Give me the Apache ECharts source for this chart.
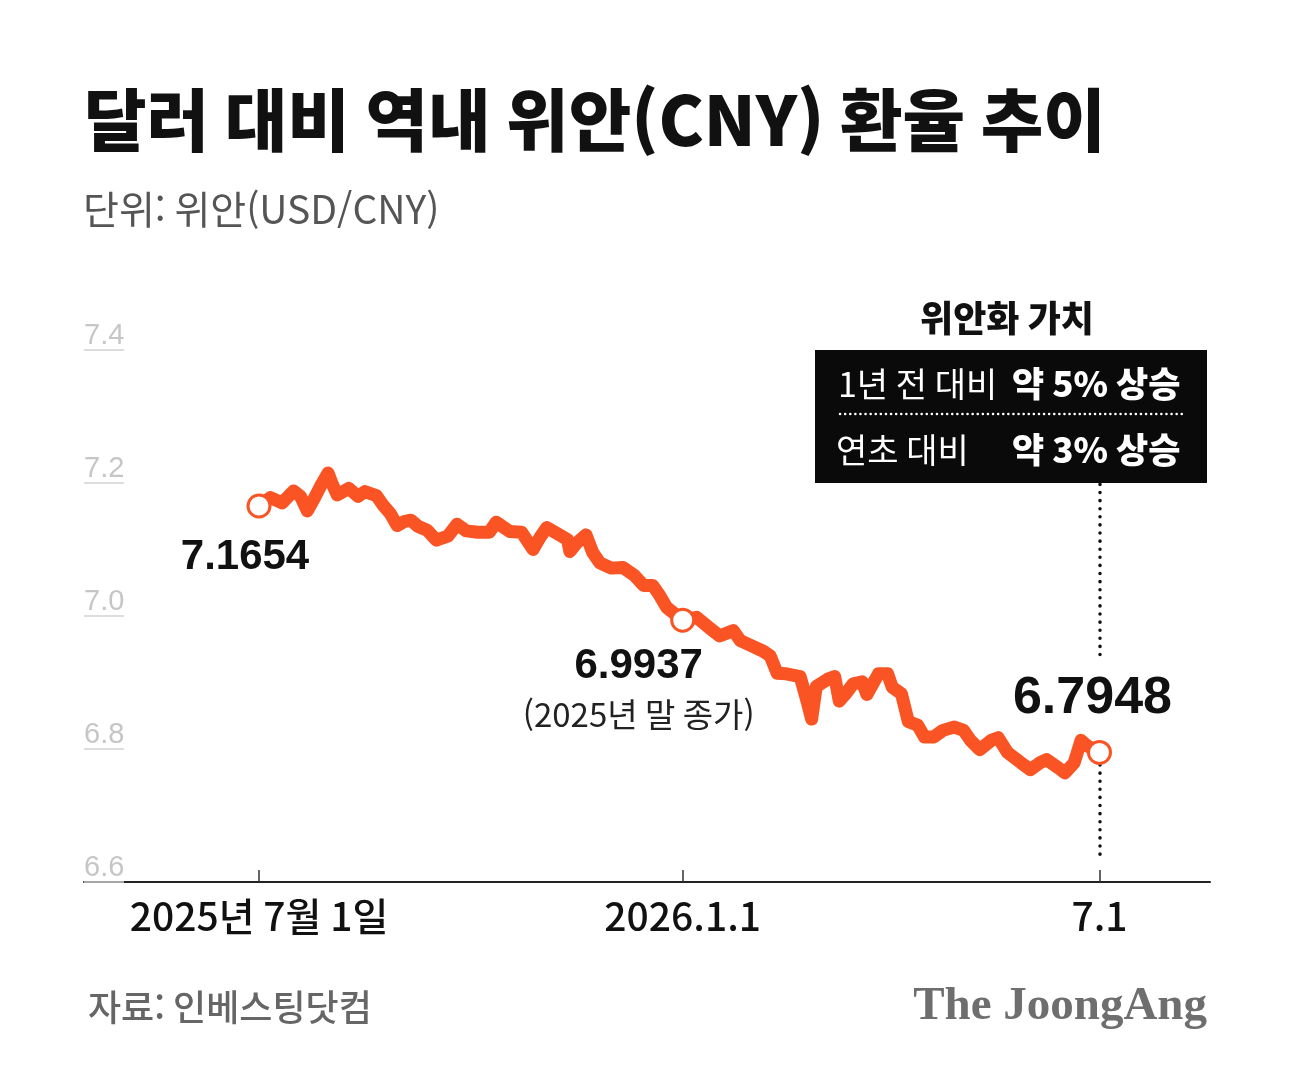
<!DOCTYPE html>
<html lang="ko">
<head>
<meta charset="UTF-8">
<title>달러 대비 역내 위안(CNY) 환율 추이</title>
<script src="https://cdn.jsdelivr.net/npm/echarts@6/dist/echarts.min.js"></script>
<style>
html, body { margin: 0; padding: 0; background: #fff; }
#main { width: 1291px; height: 1091px; }
</style>
</head>
<body>
<div id="main"></div>
<script>
// 데이터
var dates = [
  '2025-07-01','2025-07-06','2025-07-11','2025-07-16','2025-07-19','2025-07-22','2025-07-25','2025-07-28','2025-07-31',
  '2025-08-02','2025-08-04','2025-08-09','2025-08-13','2025-08-16','2025-08-21','2025-08-24','2025-08-27','2025-08-30',
  '2025-09-02','2025-09-05','2025-09-08','2025-09-12','2025-09-16','2025-09-21','2025-09-25','2025-09-29',
  '2025-10-04','2025-10-09','2025-10-12','2025-10-18','2025-10-23','2025-10-28','2025-10-31',
  '2025-11-03','2025-11-07','2025-11-12','2025-11-13','2025-11-16','2025-11-20','2025-11-23','2025-11-26',
  '2025-12-01','2025-12-06','2025-12-11','2025-12-15','2025-12-19','2025-12-22','2025-12-25',
  '2026-01-01','2026-01-07','2026-01-13','2026-01-17','2026-01-23','2026-01-26','2026-01-31',
  '2026-02-05','2026-02-08','2026-02-11','2026-02-15','2026-02-21','2026-02-24','2026-02-26','2026-02-28',
  '2026-03-05','2026-03-08','2026-03-10','2026-03-13','2026-03-16','2026-03-20','2026-03-22','2026-03-27','2026-03-31',
  '2026-04-02','2026-04-06','2026-04-09','2026-04-13','2026-04-16','2026-04-20','2026-04-24','2026-04-29',
  '2026-05-03','2026-05-06','2026-05-10','2026-05-15','2026-05-18','2026-05-22','2026-05-28',
  '2026-06-01','2026-06-05','2026-06-08','2026-06-13','2026-06-16','2026-06-20','2026-06-23','2026-06-26','2026-07-01'
];
var cny = [
  7.1654, 7.178, 7.170, 7.188, 7.180, 7.158, 7.177, 7.197, 7.215,
  7.197, 7.182, 7.192, 7.180, 7.187, 7.181, 7.166, 7.154, 7.136,
  7.142, 7.144, 7.135, 7.129, 7.114, 7.120, 7.138, 7.128,
  7.126, 7.126, 7.141, 7.127, 7.126, 7.100, 7.118,
  7.133, 7.125, 7.115, 7.097, 7.110, 7.122, 7.095, 7.080,
  7.072, 7.073, 7.061, 7.046, 7.046, 7.031, 7.013,
  6.9937, 6.998, 6.981, 6.970, 6.978, 6.963, 6.955,
  6.947, 6.940, 6.914, 6.913, 6.909, 6.872, 6.845, 6.894,
  6.905, 6.909, 6.872, 6.884, 6.898, 6.901, 6.882, 6.913, 6.913,
  6.893, 6.883, 6.841, 6.836, 6.818, 6.818, 6.828, 6.833,
  6.828, 6.813, 6.799, 6.813, 6.817, 6.795, 6.779,
  6.769, 6.779, 6.784, 6.772, 6.764, 6.779, 6.813, 6.804, 6.7948
];

// 축 눈금
var yTicks = [6.6, 6.8, 7.0, 7.2, 7.4];
var xTickDates = ['2025-07-01', '2026-01-01', '2026-07-01'];
var xTickLabels = ['2025년 7월 1일', '2026.1.1', '7.1'];

// 강조 지점
var hlDates = ['2025-07-01', '2026-01-01', '2026-07-01'];
var hlValues = [7.1654, 6.9937, 6.7948];

function ts(s) {
  var p = s.split('-');
  return new Date(+p[0], +p[1] - 1, +p[2]).getTime();
}

var ORANGE = '#fa5424';
var xTickTs = xTickDates.map(ts);
var seriesData = dates.map(function (d, i) { return [ts(d), cny[i]]; });

var hlLabels = [
  { position: 'inside', offset: [-14, 51], formatter: '{n|7.1654}' },
  { position: 'inside', offset: [-44, 70], formatter: '{n|6.9937}\n{s|(2025년 말 종가)}' },
  { position: 'inside', offset: [-7, -54], formatter: '{b|6.7948}' }
];
var markData = hlDates.map(function (d, i) {
  return {
    coord: [ts(d), hlValues[i]],
    label: hlLabels[i]
  };
});

var myChart = echarts.init(document.getElementById('main'));

var option = {
  backgroundColor: '#fff',
  animation: false,
  grid: { left: 84, right: 81, top: 350, bottom: 209 },
  xAxis: {
    type: 'value',
    min: ts('2025-04-16'),
    max: ts('2026-08-18'),
    axisLine: { lineStyle: { color: '#222', width: 2 } },
    axisTick: {
      show: true, inside: true, length: 12,
      customValues: xTickTs,
      lineStyle: { color: '#333', width: 1.5 }
    },
    axisLabel: {
      customValues: xTickTs,
      margin: 15,
      color: '#111',
      fontSize: 39,
      fontFamily: 'Noto Sans CJK KR',
      fontWeight: 500,
      formatter: function (v) {
        var i = xTickTs.indexOf(v);
        return i >= 0 ? xTickLabels[i] : '';
      }
    },
    splitLine: { show: false }
  },
  yAxis: {
    type: 'value',
    min: 6.6,
    max: 7.4,
    interval: 0.2,
    axisLine: { show: false },
    axisTick: {
      show: true, inside: true, length: 40,
      lineStyle: { color: '#d2d2d2', width: 1.5 }
    },
    axisLabel: {
      inside: true,
      margin: 0,
      verticalAlign: 'bottom',
      padding: [0, 0, 0, 0],
      color: '#c6c6c6',
      fontSize: 29,
      fontFamily: 'Liberation Sans',
      formatter: function (v) { return v.toFixed(1); }
    },
    splitLine: { show: false }
  },
  series: [{
    type: 'line',
    data: seriesData,
    symbol: 'none',
    smooth: false,
    lineStyle: { color: ORANGE, width: 13, cap: 'round', join: 'round' },
    markPoint: {
      symbol: 'circle',
      symbolSize: 22,
      itemStyle: { color: '#fff', borderColor: ORANGE, borderWidth: 3 },
      label: {
        show: true,
        rich: {
          n: { fontFamily: 'Liberation Sans', fontWeight: 'bold', fontSize: 42, color: '#111', lineHeight: 48 },
          b: { fontFamily: 'Liberation Sans', fontWeight: 'bold', fontSize: 52, color: '#111', lineHeight: 58 },
          s: { fontFamily: 'Noto Sans CJK KR', fontSize: 33, color: '#222', lineHeight: 48 }
        }
      },
      data: markData
    },
    markLine: {
      silent: true,
      symbol: 'none',
      label: { show: false },
      lineStyle: { color: '#111', width: 3.5, type: [0.1, 8], cap: 'round' },
      data: [
        [{ coord: [ts('2026-07-01'), 7.198] }, { coord: [ts('2026-07-01'), 6.935] }],
        [{ coord: [ts('2026-07-01'), 6.776] }, { coord: [ts('2026-07-01'), 6.636] }]
      ]
    }
  }],
  graphic: [
    { type: 'text', left: 84, top: 86, style: { text: '달러 대비 역내 위안(CNY) 환율 추이', fill: '#111', font: '900 68px "Noto Sans CJK KR"' } },
    { type: 'text', left: 83, top: 190, style: { text: '단위: 위안(USD/CNY)', fill: '#555', font: '400 39px "Noto Sans CJK KR"' } },
    { type: 'text', left: 88, top: 989, style: { text: '자료: 인베스팅닷컴', fill: '#666', font: '500 36px "Noto Sans CJK KR"' } },
    { type: 'text', right: 84, top: 983, style: { text: 'The JoongAng', fill: '#6e6e6e', font: 'bold 47px "Liberation Serif"' } },
    { type: 'text', x: 1007, y: 318, style: { text: '위안화 가치', fill: '#111', font: '900 36px "Noto Sans CJK KR"', align: 'center', verticalAlign: 'middle' } },
    { type: 'rect', shape: { x: 815, y: 350, width: 392, height: 133 }, style: { fill: '#0a0a0a' } },
    { type: 'line', shape: { x1: 840, y1: 414, x2: 1184, y2: 414 }, style: { stroke: '#fff', lineWidth: 2.5, lineDash: [0.1, 5], lineCap: 'round' } },
    { type: 'text', x: 838, y: 384, style: { text: '1년 전 대비', fill: '#fff', font: '400 34px "Noto Sans CJK KR"', verticalAlign: 'middle' } },
    { type: 'text', x: 1012, y: 384, style: { text: '약 5% 상승', fill: '#fff', font: '900 35px "Noto Sans CJK KR"', verticalAlign: 'middle' } },
    { type: 'text', x: 836, y: 450, style: { text: '연초 대비', fill: '#fff', font: '400 34px "Noto Sans CJK KR"', verticalAlign: 'middle' } },
    { type: 'text', x: 1012, y: 450, style: { text: '약 3% 상승', fill: '#fff', font: '900 35px "Noto Sans CJK KR"', verticalAlign: 'middle' } }
  ]
};

myChart.setOption(option);
</script>
</body>
</html>
